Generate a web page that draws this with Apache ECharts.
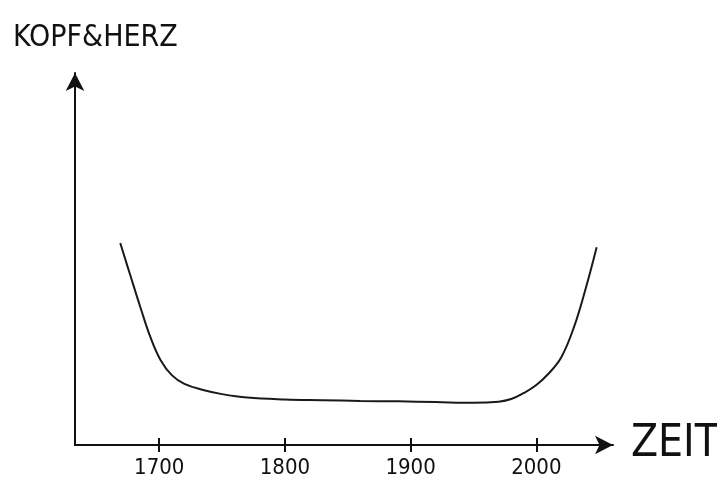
<!DOCTYPE html>
<html>
<head>
<meta charset="utf-8">
<script src="https://cdn.jsdelivr.net/npm/echarts@6/dist/echarts.min.js"></script>
<style>
  html, body { margin: 0; padding: 0; background: #fff; }
  #grafico { width: 717px; height: 490px; }
</style>
</head>
<body>
<div id="grafico"></div>
<script>
// Jahre und Kurve (relative Einheit 0..100)
const jahre = [1669, 1677, 1685, 1693, 1701, 1710, 1720, 1735, 1750, 1770, 1800, 1830, 1860, 1890, 1920, 1950, 1970, 1980, 1990, 2000, 2010, 2020, 2030, 2040, 2048]
const werte = [53.2, 44.7, 36.3, 28.4, 22.4, 18.4, 16.1, 14.5, 13.4, 12.5, 12.0, 11.8, 11.6, 11.5, 11.3, 11.1, 11.4, 12.1, 13.7, 15.8, 18.9, 23.2, 31.1, 42.1, 52.1]
const tickJahre = [1700, 1800, 1900, 2000]

const schrift = "'DejaVu Sans Condensed', 'Liberation Sans Narrow', sans-serif"

let myChart = echarts.init(document.getElementById('grafico'))

let option = {
  animation: false,
  title: {
    text: 'KOPF&HERZ',
    left: 8,
    top: 18,
    textStyle: {
      fontFamily: schrift,
      fontSize: 30,
      fontWeight: 'normal',
      color: '#111'
    }
  },
  grid: {
    left: 75,
    right: 104,
    top: 73,
    bottom: 45,
    outerBoundsMode: 'none'
  },
  xAxis: [
    {
      type: 'value',
      min: 1633,
      max: 2061,
      name: 'ZEIT',
      nameLocation: 'end',
      nameGap: 18,
      nameTextStyle: {
        fontFamily: schrift,
        fontSize: 44,
        color: '#111',
        verticalAlign: 'middle',
        padding: [6, 0, 0, 0]
      },
      axisLine: {
        show: true,
        symbol: ['none', 'arrow'],
        symbolSize: [14, 18],
        lineStyle: { color: '#111', width: 2 }
      },
      axisTick: {
        show: true,
        length: 7,
        customValues: tickJahre,
        lineStyle: { color: '#111', width: 2 }
      },
      axisLabel: {
        customValues: tickJahre,
        formatter: v => String(v),
        margin: 12,
        fontFamily: schrift,
        fontSize: 22,
        color: '#111'
      },
      splitLine: { show: false }
    },
    {
      type: 'value',
      min: 1633,
      max: 2061,
      position: 'bottom',
      axisLine: { show: false },
      axisTick: {
        show: true,
        inside: true,
        length: 7,
        customValues: tickJahre,
        lineStyle: { color: '#111', width: 2 }
      },
      axisLabel: { show: false },
      splitLine: { show: false }
    }
  ],
  yAxis: {
    type: 'value',
    min: 0,
    max: 98,
    axisLine: {
      show: true,
      symbol: ['none', 'arrow'],
      symbolSize: [14, 18],
      lineStyle: { color: '#111', width: 2 }
    },
    axisTick: { show: false },
    axisLabel: { show: false },
    splitLine: { show: false }
  },
  series: [
    {
      type: 'line',
      data: jahre.map((j, i) => [j, werte[i]]),
      smooth: 0.4,
      showSymbol: false,
      lineStyle: { color: '#1a1a1a', width: 2 }
    }
  ]
}

myChart.setOption(option)
</script>
</body>
</html>
